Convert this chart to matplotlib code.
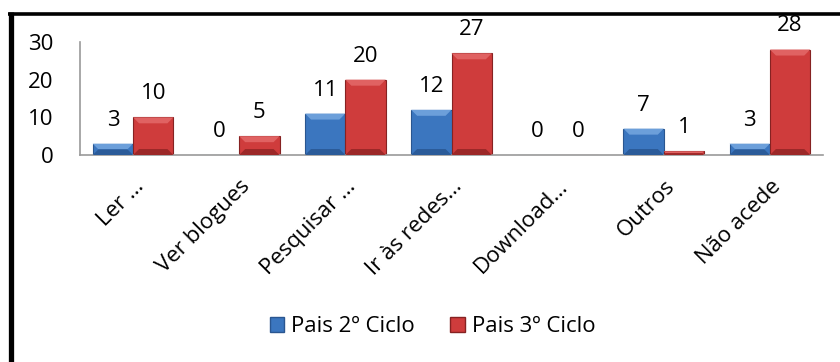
import matplotlib
matplotlib.use("Agg")
import matplotlib.pyplot as plt
from matplotlib.patches import Polygon
from matplotlib.lines import Line2D
import numpy as np

plt.rcParams['font.family'] = ['Open Sans', 'DejaVu Sans']

categorias = ['Ler …', 'Ver blogues', 'Pesquisar …', 'Ir às redes…', 'Download…', 'Outros', 'Não acede']
pais_2ciclo = [3, 0, 11, 12, 0, 7, 3]
pais_3ciclo = [10, 5, 20, 27, 0, 1, 28]
series = ['Pais 2º Ciclo', 'Pais 3º Ciclo']
yticks = [0, 10, 20, 30]

# face, light top, dark bottom, edge
azul = ('#3B76BF', '#6C9FDA', '#2B5B99', '#2A5690')
verm = ('#CF3C3C', '#E06262', '#9C2828', '#862222')

W, H = 840, 362
fig = plt.figure(figsize=(W / 100, H / 100), dpi=100)
ax = fig.add_axes([80 / W, 1 - 155 / H, 743 / W, 113 / H])

x = np.arange(len(categorias))
largura = 0.38
ax.set_xlim(-0.5, len(categorias) - 0.5)
ax.set_ylim(0, 30)

# data units per pixel
px_x = len(categorias) / 743
px_y = 30 / 113


def bisel(bar, cores):
    x0, y0 = bar.get_x(), bar.get_y()
    w, h = bar.get_width(), bar.get_height()
    if h <= 0:
        return
    x1, y1 = x0 + w, y0 + h
    b = min(6, h / px_y / 2, w / px_x / 2)
    bx, by = b * px_x, b * px_y
    topo = [(x0, y1), (x1, y1), (x1 - bx, y1 - by), (x0 + bx, y1 - by)]
    base = [(x0, y0), (x1, y0), (x1 - bx, y0 + by), (x0 + bx, y0 + by)]
    ax.add_patch(Polygon(topo, closed=True, facecolor=cores[1], edgecolor='none', zorder=3))
    ax.add_patch(Polygon(base, closed=True, facecolor=cores[2], edgecolor='none', zorder=3))


for valores, desloc, cores, nome in [(pais_2ciclo, -largura / 2, azul, series[0]),
                                     (pais_3ciclo, largura / 2, verm, series[1])]:
    barras = ax.bar(x + desloc, valores, largura, color=cores[0], edgecolor=cores[3],
                    linewidth=0.8, label=nome, zorder=2)
    for b, v in zip(barras, valores):
        bisel(b, cores)
        ax.annotate(str(v), (b.get_x() + b.get_width() / 2, v), xytext=(0, 13),
                    textcoords='offset points', ha='center', va='baseline', fontsize=16)

for lado in ['top', 'right']:
    ax.spines[lado].set_visible(False)
for lado in ['left', 'bottom']:
    ax.spines[lado].set_color('#9A9A9A')
    ax.spines[lado].set_linewidth(1.2)

ax.set_yticks(yticks)
ax.set_yticklabels([str(t) for t in yticks], fontsize=16)
ax.tick_params(axis='y', length=0, pad=19)
ax.tick_params(axis='x', length=0, pad=15)
ax.set_xticks(x)
ax.set_xticklabels(categorias, rotation=45, ha='right', va='top',
                   rotation_mode='anchor', fontsize=16)

# legend handles as small squares
handles = [plt.Rectangle((0, 0), 1, 1, facecolor=azul[0], edgecolor=azul[3]),
           plt.Rectangle((0, 0), 1, 1, facecolor=verm[0], edgecolor=verm[3])]
fig.legend(handles, series, loc='center', bbox_to_anchor=(0.515, 1 - 327 / H), ncol=2,
           frameon=False, fontsize=16, handlelength=0.65, handleheight=0.65,
           handletextpad=0.3, columnspacing=1.6)

# thick frame on the left and top
fig.add_artist(Line2D([10.5 / W, 10.5 / W], [0, 1 - 12 / H], color='black', linewidth=3.8,
                      transform=fig.transFigure, solid_capstyle='butt'))
fig.add_artist(Line2D([8 / W, 1], [1 - 13.5 / H, 1 - 13.5 / H], color='black', linewidth=2.6,
                      transform=fig.transFigure, solid_capstyle='butt'))

fig.savefig('out.png', dpi=100)
